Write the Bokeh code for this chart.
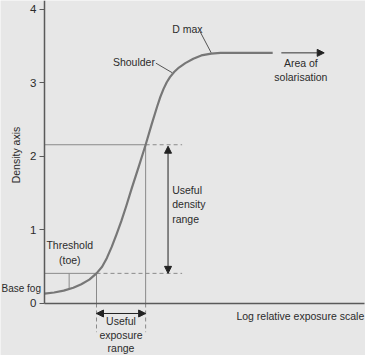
import math
from bokeh.plotting import figure
from bokeh.models import Label, Arrow, NormalHead, FixedTicker, Range1d
from bokeh.embed import file_html
from bokeh.resources import INLINE

# ---- data ----
curve_x = [0.0, 0.30, 0.60, 0.90, 1.15, 1.40, 1.625, 1.80, 1.95, 2.10, 2.25, 2.40, 2.55,
           2.72, 2.95, 3.16, 3.35, 3.52, 3.62, 3.72, 3.82, 3.92, 4.05, 4.20, 4.40,
           4.65, 4.90, 5.21, 5.50, 7.13]
curve_y = [0.134, 0.150, 0.175, 0.215, 0.262, 0.325, 0.41, 0.50, 0.62, 0.77, 0.94, 1.12, 1.32,
           1.56, 1.87, 2.16, 2.44, 2.68, 2.81, 2.92, 3.01, 3.08, 3.15, 3.21, 3.27,
           3.33, 3.375, 3.40, 3.41, 3.41]
y_ticks = [0, 1, 2, 3, 4]
exposure_lo, exposure_hi = 1.625, 3.16      # useful exposure range (log E)
density_lo, density_hi = 0.41, 2.16        # useful density range
toe_x, toe_y = 0.77, 0.20                  # threshold (toe) point on curve
shoulder_pt = (3.99, 3.14)
dmax_pt = (5.21, 3.41)
dmax = 3.41

BG = "#e7e7e7"
TXT = "#2b2b2b"
GUIDE = "#8a8a8a"
AXIS = "#5a5a5a"
FONT = "Liberation Sans"
FS = "10.5px"

p = figure(width=365, height=355, output_backend="svg", toolbar_location=None,
           x_range=Range1d(-1.375, 10.03), y_range=Range1d(-0.7075, 4.1224),
           min_border=0, min_border_left=0, min_border_right=0,
           min_border_top=0, min_border_bottom=0,
           background_fill_color=BG, border_fill_color=BG, outline_line_color=None)
p.grid.visible = False

# axes drawn at data zero inside the frame
p.yaxis.fixed_location = 0
p.yaxis.bounds = (0, 4.1224)
p.yaxis.ticker = FixedTicker(ticks=y_ticks)
p.yaxis.minor_tick_line_color = None
p.yaxis.major_tick_in = 0
p.yaxis.major_tick_out = 5
p.yaxis.major_label_standoff = 3
p.yaxis.major_label_text_font = FONT
p.yaxis.major_label_text_font_size = "11.5px"
p.yaxis.major_label_text_color = TXT
p.yaxis.axis_line_color = AXIS
p.yaxis.axis_line_width = 1.5
p.yaxis.major_tick_line_color = AXIS

p.xaxis.fixed_location = 0
p.xaxis.bounds = (0, 10)
p.xaxis.ticker = FixedTicker(ticks=[])
p.xaxis.minor_tick_line_color = None
p.xaxis.major_tick_line_color = None
p.xaxis.major_label_text_font_size = "0px"
p.xaxis.axis_line_color = AXIS
p.xaxis.axis_line_width = 1.5

dash_end = 4.3
below = -0.39
# solid guide lines
p.segment(x0=[0, 0, exposure_lo, exposure_hi, toe_x],
          y0=[density_lo, density_hi, 0, 0, density_lo],
          x1=[exposure_lo, exposure_hi, exposure_lo, exposure_hi, toe_x],
          y1=[density_lo, density_hi, density_lo, density_hi, toe_y],
          line_color=GUIDE, line_width=1)
# dashed guide lines
p.segment(x0=[exposure_lo, exposure_hi, exposure_lo, exposure_hi],
          y0=[density_lo, density_hi, 0, 0],
          x1=[dash_end, dash_end, exposure_lo, exposure_hi],
          y1=[density_lo, density_hi, below, below],
          line_color=GUIDE, line_width=1, line_dash="4 3")

# leaders
p.segment(x0=[3.48, 4.86], y0=[3.27, 3.70], x1=[shoulder_pt[0], dmax_pt[0]],
          y1=[shoulder_pt[1], dmax_pt[1]], line_color="#555555", line_width=1)

# characteristic curve
p.line(curve_x, curve_y, line_color="#777777", line_width=2.2, line_join="round")

# arrows
def head():
    return NormalHead(size=7, fill_color="#222222", line_color="#222222", line_width=1)

p.add_layout(Arrow(start=head(), end=head(), x_start=3.86, y_start=density_hi - 0.02,
                   x_end=3.86, y_end=density_lo, line_color="#222222", line_width=1))
p.add_layout(Arrow(start=head(), end=head(), x_start=exposure_lo, y_start=-0.136,
                   x_end=exposure_hi, y_end=-0.136, line_color="#222222", line_width=1))
p.add_layout(Arrow(start=None, end=head(), x_start=7.40, y_start=dmax,
                   x_end=8.74, y_end=dmax, line_color="#333333", line_width=1))

def lab(x, y, t, align="left", angle=0.0, size=FS):
    p.add_layout(Label(x=x, y=y, text=t, text_font=FONT, text_font_size=size,
                       text_color=TXT, text_align=align, text_baseline="middle",
                       angle=angle))

lab(-0.906, 2.02, "Density axis", "center", math.pi / 2)
lab(3.99, 3.73, "D max")
lab(3.45, 3.29, "Shoulder", "right")
lab(8.01, 3.27, "Area of", "center")
lab(8.01, 3.08, "solarisation", "center")
lab(3.99, 1.546, "Useful")
lab(3.99, 1.353, "density")
lab(3.99, 1.156, "range")
lab(0.79, 0.79, "Threshold", "center")
lab(0.79, 0.587, "(toe)", "center")
lab(-0.11, 0.20, "Base fog", "right", size="10px")
lab(2.39, -0.243, "Useful", "center")
lab(2.39, -0.425, "exposure", "center")
lab(2.39, -0.605, "range", "center")
lab(9.99, -0.170, "Log relative exposure scale", "right")

open("out.html", "w").write(file_html(p, INLINE))
